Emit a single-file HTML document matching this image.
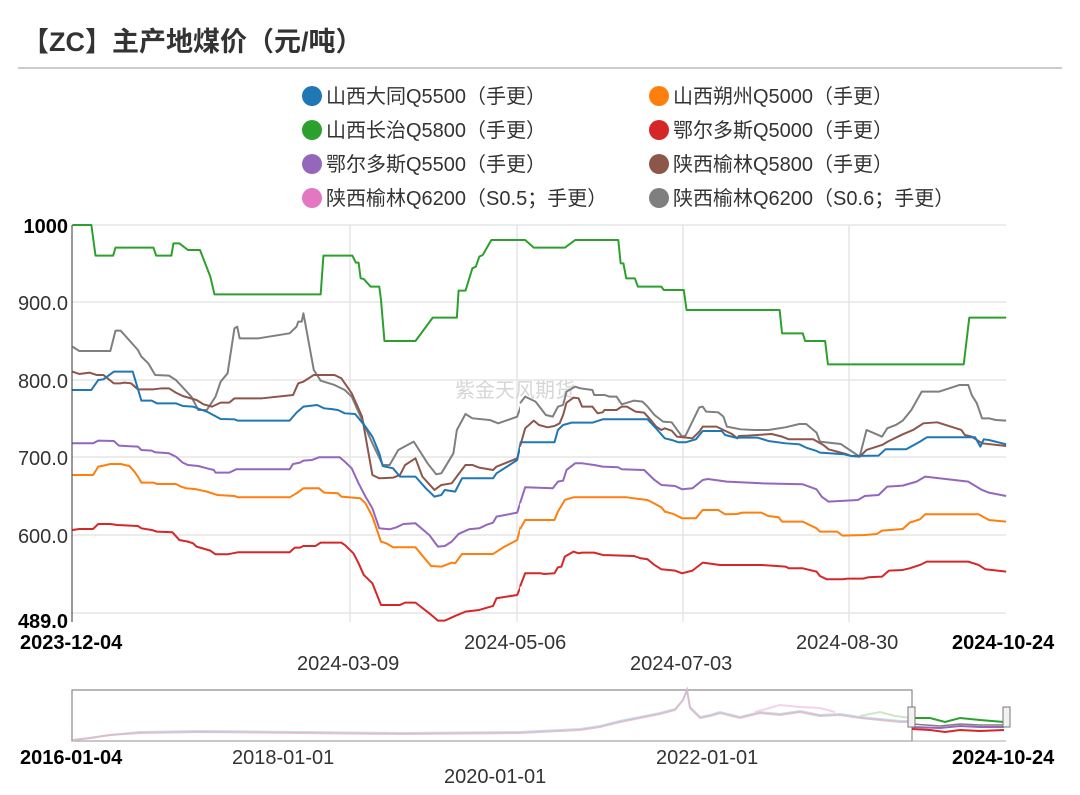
<!DOCTYPE html>
<html><head><meta charset="utf-8"><style>
body{margin:0;background:#fff;width:1080px;height:795px;overflow:hidden;font-family:"Liberation Sans","Noto Sans CJK SC",sans-serif;}
</style></head><body>
<svg width="1080" height="795" xmlns="http://www.w3.org/2000/svg" style="position:absolute;left:0;top:0;font-family:'Liberation Sans','Noto Sans CJK SC',sans-serif">
<text x="22" y="51" font-size="27" font-weight="bold" fill="#333">【ZC】主产地煤价（元/吨）</text>
<line x1="18" y1="68" x2="1062" y2="68" stroke="#bbb" stroke-width="1.5"/>
<g font-size="20" fill="#333">
<circle cx="312" cy="96" r="10" fill="#1f77b4"/><text x="326" y="103">山西大同Q5500（手更）</text>
<circle cx="659" cy="96" r="10" fill="#ff7f0e"/><text x="673" y="103">山西朔州Q5000（手更）</text>
<circle cx="312" cy="130" r="10" fill="#2ca02c"/><text x="326" y="137">山西长治Q5800（手更）</text>
<circle cx="659" cy="130" r="10" fill="#d62728"/><text x="673" y="137">鄂尔多斯Q5000（手更）</text>
<circle cx="312" cy="164" r="10" fill="#9467bd"/><text x="326" y="171">鄂尔多斯Q5500（手更）</text>
<circle cx="659" cy="164" r="10" fill="#8c564b"/><text x="673" y="171">陕西榆林Q5800（手更）</text>
<circle cx="312" cy="198" r="10" fill="#e377c2"/><text x="326" y="205">陕西榆林Q6200（S0.5；手更）</text>
<circle cx="659" cy="198" r="10" fill="#7f7f7f"/><text x="673" y="205">陕西榆林Q6200（S0.6；手更）</text>
</g>
<g stroke="#e6e6e6" stroke-width="1.5">
<line x1="72" y1="225" x2="1006" y2="225"/><line x1="72" y1="302" x2="1006" y2="302"/>
<line x1="72" y1="380" x2="1006" y2="380"/><line x1="72" y1="457" x2="1006" y2="457"/>
<line x1="72" y1="535" x2="1006" y2="535"/><line x1="72" y1="613" x2="1006" y2="613"/>
<line x1="350" y1="225" x2="350" y2="622"/><line x1="517" y1="225" x2="517" y2="622"/>
<line x1="683" y1="225" x2="683" y2="622"/><line x1="849" y1="225" x2="849" y2="622"/>
</g>
<line x1="72" y1="225" x2="72" y2="622" stroke="#333" stroke-width="1"/>
<g font-size="20" fill="#333" text-anchor="end">
<text x="68" y="233" font-weight="bold" fill="#000">1000</text>
<text x="68" y="310">900.0</text><text x="68" y="388">800.0</text>
<text x="68" y="465">700.0</text><text x="68" y="543">600.0</text>
<text x="68" y="628" font-weight="bold" fill="#000">489.0</text>
</g>
<text x="515" y="397" font-size="20" fill="#ccc" text-anchor="middle" opacity="0.8">紫金天风期货</text>
<defs>
<clipPath id="c1"><rect x="0" y="0" width="1508" height="1300"/></clipPath>
</defs>
<g transform="translate(0,210) scale(0.3448,0.3333)" clip-path="url(#c1)" fill="none" stroke-width="2" stroke-linejoin="round">
<polyline vector-effect="non-scaling-stroke" stroke="#2ca02c" points="210,45 265,45 277,137 328,137 335,113 445,113 453,137 497,137 503,100 520,100 545,120 580,120 610,200 622,253 930,253 938,137 1022,137 1032,158 1040,158 1046,205 1055,207 1075,230 1100,230 1105,270 1115,393 1205,393 1255,323 1325,323 1330,242 1350,242 1370,175 1380,170 1390,140 1400,135 1425,90 1525,90 1550,113 1568,113"/>
<polyline vector-effect="non-scaling-stroke" stroke="#7f7f7f" points="210,410 230,423 320,423 335,362 350,362 400,420 410,440 430,460 450,495 490,497 510,510 555,560 575,600 600,600 625,560 640,515 660,490 680,355 688,350 695,385 750,385 840,370 860,350 865,335 875,335 880,310 910,480 930,512 970,525 1000,540 1020,560 1050,630 1080,700 1110,765 1130,765 1155,720 1200,695 1240,760 1265,793 1280,790 1315,730 1325,660 1350,612 1370,625 1420,630 1445,640 1500,620 1520,560 1535,570 1568,590"/>
<polyline vector-effect="non-scaling-stroke" stroke="#8c564b" points="210,485 230,492 260,488 280,495 300,495 330,520 350,520 360,518 380,520 400,538 445,538 470,535 490,535 510,548 530,558 570,570 590,583 615,590 640,578 665,578 680,565 760,565 850,555 865,520 880,515 910,495 970,495 990,505 1020,550 1050,620 1080,795 1100,805 1140,803 1160,795 1175,765 1205,745 1225,800 1260,840 1280,825 1310,820 1350,765 1370,765 1390,773 1430,780 1440,770 1500,745 1525,650 1550,632 1568,645"/>
<polyline vector-effect="non-scaling-stroke" stroke="#1f77b4" points="210,540 265,540 285,510 300,508 330,485 385,485 410,572 440,572 455,580 510,580 530,588 560,590 600,605 640,627 680,628 690,632 840,632 860,608 880,590 920,585 940,595 960,597 980,600 1000,610 1030,612 1060,650 1080,680 1100,730 1110,768 1140,775 1160,800 1205,800 1235,835 1260,860 1280,855 1290,840 1320,845 1340,805 1430,805 1440,790 1500,750 1510,697 1568,697"/>
<polyline vector-effect="non-scaling-stroke" stroke="#9467bd" points="210,700 270,700 285,692 330,693 345,707 400,710 410,720 440,722 450,727 490,730 510,740 530,758 545,765 575,768 600,775 620,780 625,788 665,788 685,778 840,778 850,762 870,758 880,752 905,750 925,742 985,742 1000,755 1020,775 1040,820 1060,860 1080,895 1100,955 1130,958 1150,952 1170,942 1205,940 1245,975 1270,1010 1290,1008 1310,995 1330,972 1360,958 1390,955 1410,945 1430,938 1440,920 1500,908 1510,875 1525,832 1568,832"/>
<polyline vector-effect="non-scaling-stroke" stroke="#ff7f0e" points="210,795 270,795 285,770 300,767 320,762 350,762 375,768 390,785 400,800 410,818 445,818 455,822 510,822 525,830 540,835 570,838 600,845 630,855 680,858 690,862 840,862 860,850 880,835 925,835 940,848 980,850 990,860 1045,865 1060,880 1080,920 1105,995 1120,1000 1140,1012 1205,1012 1250,1068 1280,1070 1310,1058 1320,1060 1340,1032 1430,1032 1460,1012 1500,990 1510,950 1525,930 1568,930"/>
<polyline vector-effect="non-scaling-stroke" stroke="#d62728" points="210,960 230,957 270,957 285,942 320,942 340,945 400,948 410,955 440,960 455,965 500,967 520,990 545,995 560,1000 570,1010 610,1022 625,1033 660,1033 690,1027 840,1027 855,1013 870,1013 880,1008 915,1008 930,998 990,998 1000,1005 1025,1030 1040,1060 1055,1095 1080,1120 1105,1185 1160,1185 1175,1178 1205,1178 1245,1210 1270,1232 1290,1232 1320,1218 1350,1205 1390,1200 1430,1188 1440,1165 1500,1155 1510,1130 1525,1090 1568,1090"/>
</g>
<g transform="translate(520,210) scale(0.3448,0.3333)" fill="none" stroke-width="2" stroke-linejoin="round">
<polyline vector-effect="non-scaling-stroke" stroke="#2ca02c" points="0,90 15,90 40,113 130,113 160,90 285,90 292,160 300,160 308,205 333,205 342,230 410,230 417,240 475,240 483,300 753,300 760,370 820,370 827,393 885,393 893,463 1287,463 1303,323 1410,323"/>
<polyline vector-effect="non-scaling-stroke" stroke="#7f7f7f" points="0,580 15,560 45,575 75,615 95,620 110,590 125,585 135,545 160,530 175,535 210,540 215,555 245,555 260,560 280,560 295,583 330,572 355,575 370,590 390,615 415,635 440,637 470,680 480,677 520,592 530,590 540,605 575,607 590,620 600,650 640,658 680,660 720,660 770,652 810,642 830,642 860,668 870,695 930,702 985,740 1005,660 1050,680 1065,655 1090,645 1110,632 1135,600 1165,545 1215,545 1275,525 1300,525 1310,555 1325,580 1340,625 1360,625 1380,630 1410,632"/>
<polyline vector-effect="non-scaling-stroke" stroke="#8c564b" points="0,710 15,655 40,632 55,645 80,652 100,648 115,640 125,615 135,578 155,563 170,565 180,590 210,590 225,610 240,607 245,600 280,600 295,590 310,590 335,605 360,608 375,625 395,650 410,660 420,655 440,662 455,680 500,685 520,665 530,650 570,650 590,660 615,672 630,685 635,678 660,677 730,672 760,680 780,688 850,688 880,705 895,718 945,732 960,738 985,740 1005,720 1050,705 1070,693 1110,673 1140,660 1170,640 1210,637 1280,660 1290,675 1310,680 1340,700 1410,708"/>
<polyline vector-effect="non-scaling-stroke" stroke="#1f77b4" points="0,697 100,697 110,660 125,645 150,638 210,638 240,628 370,628 390,650 420,685 440,690 460,697 480,697 510,688 530,663 585,663 595,675 625,683 690,683 720,693 770,700 810,703 830,713 860,723 870,728 940,733 960,738 1040,737 1060,718 1120,718 1160,695 1180,682 1320,682 1335,710 1345,688 1360,690 1410,703"/>
<polyline vector-effect="non-scaling-stroke" stroke="#9467bd" points="0,880 15,832 95,835 110,815 125,812 135,780 160,760 180,760 215,765 240,770 285,772 295,778 360,780 390,810 410,825 450,828 470,838 500,835 530,810 545,807 600,815 700,820 820,823 860,838 875,860 895,875 980,870 1000,858 1040,855 1065,830 1110,827 1150,815 1175,800 1200,803 1300,815 1340,840 1360,848 1410,858"/>
<polyline vector-effect="non-scaling-stroke" stroke="#ff7f0e" points="0,958 15,930 100,930 110,905 130,870 155,862 310,862 330,865 370,870 410,892 420,905 445,912 470,925 510,925 530,900 575,900 595,913 630,912 645,908 700,908 720,918 750,922 760,935 820,935 860,955 870,965 920,965 935,977 1000,975 1035,972 1050,962 1075,960 1110,957 1130,938 1160,928 1175,913 1330,913 1360,930 1390,933 1410,935"/>
<polyline vector-effect="non-scaling-stroke" stroke="#d62728" points="0,1130 15,1090 60,1090 70,1092 100,1090 110,1072 120,1070 130,1040 155,1025 170,1030 180,1028 215,1028 240,1035 330,1038 350,1045 370,1048 390,1065 410,1078 450,1082 470,1090 500,1082 530,1058 580,1065 700,1065 770,1070 780,1075 820,1075 860,1085 870,1098 890,1108 935,1108 950,1106 995,1106 1010,1102 1050,1100 1070,1082 1110,1080 1130,1075 1160,1065 1180,1055 1300,1055 1330,1065 1350,1078 1410,1085"/>
</g>
<g font-size="20" fill="#333">
<text x="20" y="649" font-weight="bold" fill="#000">2023-12-04</text>
<text x="297" y="670">2024-03-09</text>
<text x="464" y="649">2024-05-06</text>
<text x="630" y="670">2024-07-03</text>
<text x="796" y="649">2024-08-30</text>
<text x="952" y="649" font-weight="bold" fill="#000">2024-10-24</text>
</g>
<rect x="72" y="690" width="840" height="51" fill="none" stroke="#888" stroke-width="1.2"/>
<line x1="72" y1="741" x2="1006" y2="741" stroke="#aaa" stroke-width="1"/>
<polyline fill="none" stroke="#b9d3ea" stroke-width="2" opacity="0.8" points="73,740 90,738 110,735 140,732 200,731 300,732 400,733 520,732 580,729 600,726 620,721 640,717 660,713 675,709 683,700 687,690 690,707 700,717 710,715 720,712 740,717 760,712 780,714 800,711 820,715 840,714 860,717 880,719 900,721 912,721"/>
<polyline fill="none" stroke="#d9b8c4" stroke-width="2" opacity="0.8" points="73,740 90,738 110,735 140,733 200,732 300,733 400,734 520,733 580,730 600,727 620,722 640,718 660,714 675,710 683,700 687,690 690,708 700,718 710,716 720,713 740,718 760,713 780,715 800,712 820,716 840,715 860,718 880,720 900,722 912,722"/>
<polyline fill="none" stroke="#f3c6e6" stroke-width="2" opacity="0.8" points="755,712 780,705 800,707 820,708 835,712"/>
<polyline fill="none" stroke="#bfe3b8" stroke-width="2" opacity="0.8" points="860,716 880,712 895,716 912,718"/>
<polyline fill="none" stroke="#2ca02c" stroke-width="2" points="912,718 930,718 945,722 960,718 980,720 1004,722"/>
<polyline fill="none" stroke="#9467bd" stroke-width="2" points="912,727 940,728 960,726 980,727 1004,727"/>
<polyline fill="none" stroke="#d62728" stroke-width="2" points="912,729 930,730 945,732 960,730 980,731 1004,730"/>
<polyline fill="none" stroke="#7f7f7f" stroke-width="1.5" points="912,724 940,726 960,724 980,725 1004,725"/>
<rect x="908" y="707" width="7" height="20" fill="#f2f2f2" stroke="#777"/>
<rect x="1003" y="707" width="7" height="20" fill="#f2f2f2" stroke="#777"/>
<g font-size="20" fill="#333">
<text x="20" y="764" font-weight="bold" fill="#000">2016-01-04</text>
<text x="232" y="764">2018-01-01</text>
<text x="444" y="783">2020-01-01</text>
<text x="656" y="764">2022-01-01</text>
<text x="952" y="764" font-weight="bold" fill="#000">2024-10-24</text>
</g>
</svg>
</body></html>
